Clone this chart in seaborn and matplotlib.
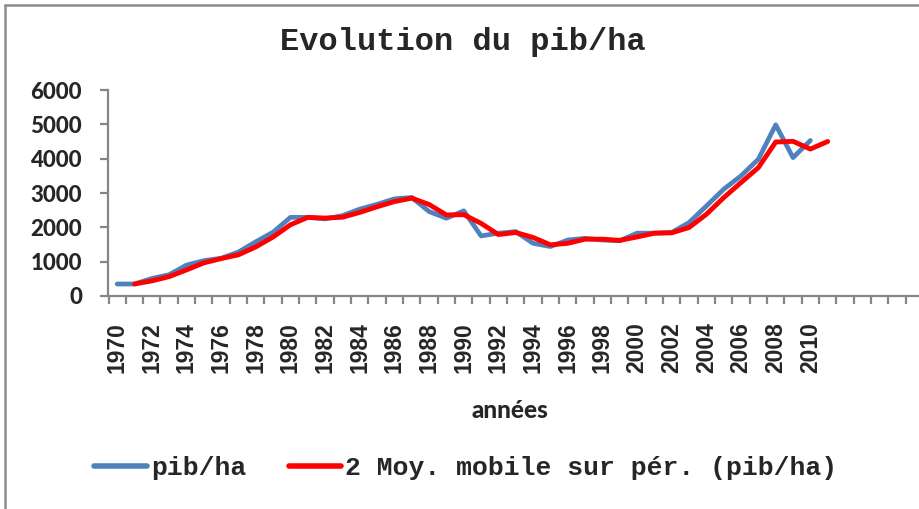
import matplotlib
matplotlib.use("Agg")
import matplotlib.pyplot as plt
import seaborn as sns
import pandas as pd
from matplotlib.lines import Line2D
from matplotlib.ticker import FixedLocator

# ---- data ----
years_pib = list(range(1970, 2011))
pib_ha = [350, 350, 510, 620, 900, 1030, 1100, 1280, 1580, 1860,
          2290, 2290, 2245, 2340, 2530, 2670, 2830, 2870, 2460, 2265,
          2480, 1750, 1830, 1875, 1535, 1440, 1630, 1680, 1630, 1610,
          1830, 1830, 1850, 2140, 2620, 3110, 3500, 3985, 4985, 4030,
          4530]
years_mm = list(range(1971, 2012))
moy_mobile = [350, 440, 565, 760, 965, 1090, 1200, 1430, 1720, 2075,
              2290, 2270, 2295, 2435, 2600, 2750, 2850, 2665, 2360, 2370,
              2115, 1790, 1850, 1705, 1490, 1535, 1655, 1655, 1620, 1720,
              1830, 1840, 1995, 2380, 2865, 3305, 3740, 4485, 4505, 4280,
              4500]
tick_label_years = list(range(1970, 2011, 2))
y_ticks = [0, 1000, 2000, 3000, 4000, 5000, 6000]

title = "Evolution du pib/ha"
xlabel = "années"
label_pib = "pib/ha"
label_mm = "2 Moy. mobile sur pér. (pib/ha)"

df_pib = pd.DataFrame({"annee": years_pib, "val": pib_ha})
df_mm = pd.DataFrame({"annee": years_mm, "val": moy_mobile})

sns.set_theme(style="white")
plt.rcParams["font.family"] = ["Lato", "DejaVu Sans"]

BLUE = "#4F81BD"
RED = "#FF0000"
GRAY = "#868686"

fig = plt.figure(figsize=(9.2, 5.09), dpi=100)
ax = fig.add_axes([108.5 / 920, 213 / 509, 811.5 / 920, 206 / 509])

sns.lineplot(data=df_pib, x="annee", y="val", ax=ax, color=BLUE, linewidth=3.4,
             solid_capstyle="round", solid_joinstyle="round", zorder=3)
sns.lineplot(data=df_mm, x="annee", y="val", ax=ax, color=RED, linewidth=3.5,
             solid_capstyle="round", solid_joinstyle="round", zorder=4)

ax.set_ylim(0, 6000)
ax.set_xlim(1969.5, 1969.5 + 811.5 / 17.33)

# spines
for s in ["top", "right"]:
    ax.spines[s].set_visible(False)
for s in ["left", "bottom"]:
    ax.spines[s].set_color(GRAY)
    ax.spines[s].set_linewidth(1.6)

# y ticks
ax.set_yticks(y_ticks)
ax.set_yticklabels([str(v) for v in y_ticks], fontweight="black", fontsize=16,
                   family=["Lato", "DejaVu Sans"])
ax.tick_params(axis="y", direction="out", length=6, width=1.6, color=GRAY,
               pad=13, left=True)

# x ticks: labels at centers (major, no tick mark), marks at boundaries (minor)
ax.xaxis.set_major_locator(FixedLocator(tick_label_years))
ax.set_xticklabels([str(y) for y in tick_label_years], rotation=90,
                   fontweight="bold", fontsize=16.5,
                   family=["Liberation Sans", "DejaVu Sans"])
ax.tick_params(axis="x", which="major", length=0, pad=19, bottom=True)
bounds = [y + 0.5 for y in range(1969, 2016)]
ax.xaxis.set_minor_locator(FixedLocator(bounds))
ax.tick_params(axis="x", which="minor", direction="out", length=5.5, width=1.6,
               color=GRAY, bottom=True)
ax.set_xlabel("")
ax.set_ylabel("")
ax.grid(False)

# title
fig.text(463 / 920, 1 - 42 / 509, title, ha="center", va="center",
         fontsize=23, fontweight="bold", family=["Liberation Mono", "DejaVu Sans Mono"])

# x axis title
fig.text(510 / 920, 1 - 411 / 509, xlabel, ha="center", va="center",
         fontsize=17.5, fontweight="black", family=["Lato", "DejaVu Sans"])

# legend
handles = [Line2D([], [], color=BLUE, linewidth=4, solid_capstyle="round"),
           Line2D([], [], color=RED, linewidth=4, solid_capstyle="round")]
fig.legend(handles, [label_pib, label_mm], loc="center",
           bbox_to_anchor=(466 / 920, 1 - 468 / 509), ncol=2, frameon=False,
           prop={"family": ["Liberation Mono", "DejaVu Sans Mono"],
                 "weight": "bold", "size": 19},
           handlelength=2.0, handletextpad=0.15, columnspacing=1.6)

# outer frame (left and top visible)
fig.add_artist(Line2D([5 / 920, 5 / 920], [0, 1 - 5 / 509], transform=fig.transFigure,
                      color="#8C8C8C", linewidth=1.8))
fig.add_artist(Line2D([5 / 920, 1], [1 - 5 / 509, 1 - 5 / 509], transform=fig.transFigure,
                      color="#8C8C8C", linewidth=1.8))

fig.savefig("out.png", dpi=100)
